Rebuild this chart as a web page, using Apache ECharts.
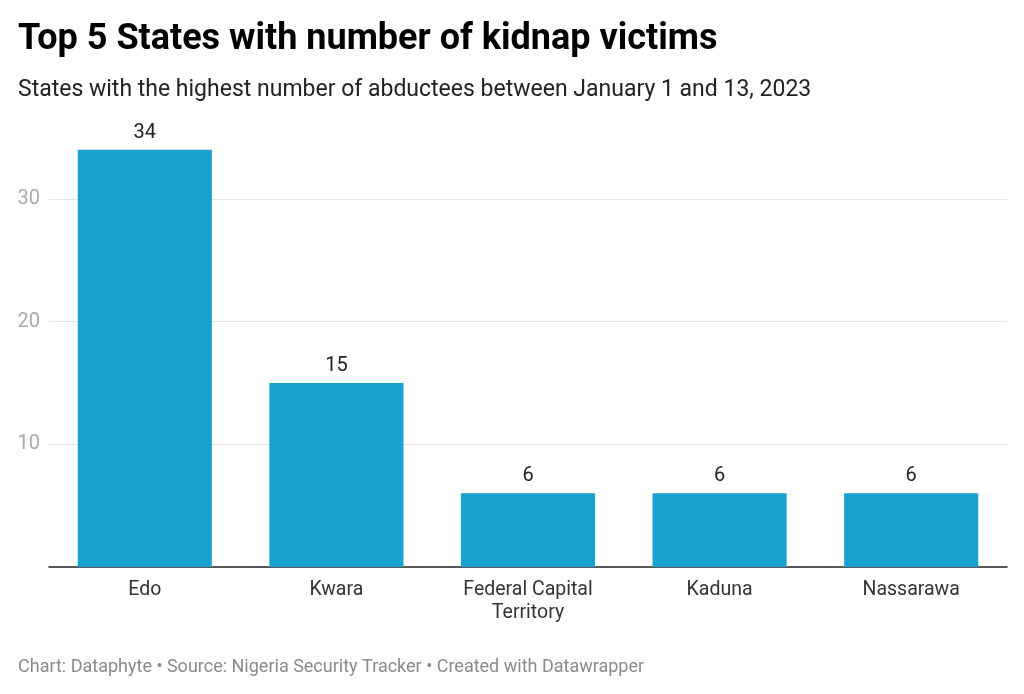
<!DOCTYPE html>
<html><head><meta charset="utf-8">
<script src="https://cdn.jsdelivr.net/npm/echarts@6/dist/echarts.min.js"></script>
<style>html,body{margin:0;padding:0;background:#fff}#c{width:1024px;height:694px}</style>
</head><body><div id="c"></div>
<script>
var categories = ['Edo', 'Kwara', 'Federal Capital\nTerritory', 'Kaduna', 'Nassarawa'];
var victims = [34, 15, 6, 6, 6];
var yTicks = [0, 10, 20, 30];

var chart = echarts.init(document.getElementById('c'), null, {renderer: 'canvas'});
chart.setOption({
  animation: false,
  backgroundColor: '#ffffff',
  textStyle: {fontFamily: 'Roboto'},
  title: [
    {text: 'Top 5 States with number of kidnap victims', left: 13, top: 17,
     textStyle: {fontFamily: 'Roboto', fontWeight: 'bold', fontSize: 36, color: '#000'}},
    {text: 'States with the highest number of abductees between January 1 and 13, 2023', left: 13, top: 74,
     textStyle: {fontFamily: 'Roboto', fontWeight: 'normal', fontSize: 23, color: '#222'}},
    {text: 'Chart: Dataphyte \u2022 Source: Nigeria Security Tracker \u2022 Created with Datawrapper', left: 13, top: 653,
     textStyle: {fontFamily: 'Roboto', fontWeight: 'normal', fontSize: 18, color: '#8a8a8a'}}
  ],
  grid: {left: 49, right: 17, top: 137.5, bottom: 127, containLabel: false},
  xAxis: {
    type: 'category', data: categories,
    axisLine: {show: true, lineStyle: {color: '#222', width: 1.5}},
    axisTick: {show: false},
    axisLabel: {fontFamily: 'Roboto', fontSize: 19.5, color: '#333', margin: 12, lineHeight: 23}
  },
  yAxis: {
    type: 'value', min: yTicks[0], max: 35, interval: 10,
    axisLine: {show: false}, axisTick: {show: false},
    axisLabel: {fontFamily: 'Roboto', fontSize: 20, color: '#aaaaaa', margin: 9,
      showMinLabel: false, showMaxLabel: false,
      formatter: function (v) { return yTicks.indexOf(v) >= 0 ? String(v) : ''; }},
    splitLine: {show: true, showMinLine: false, showMaxLine: false, lineStyle: {color: '#e6e6e6', width: 1}}
  },
  series: [{
    type: 'bar', data: victims, barWidth: '70%',
    itemStyle: {color: '#18a1cd'},
    label: {show: true, position: 'top', distance: 7, fontFamily: 'Roboto', fontSize: 20, color: '#222'}
  }]
});
</script></body></html>
